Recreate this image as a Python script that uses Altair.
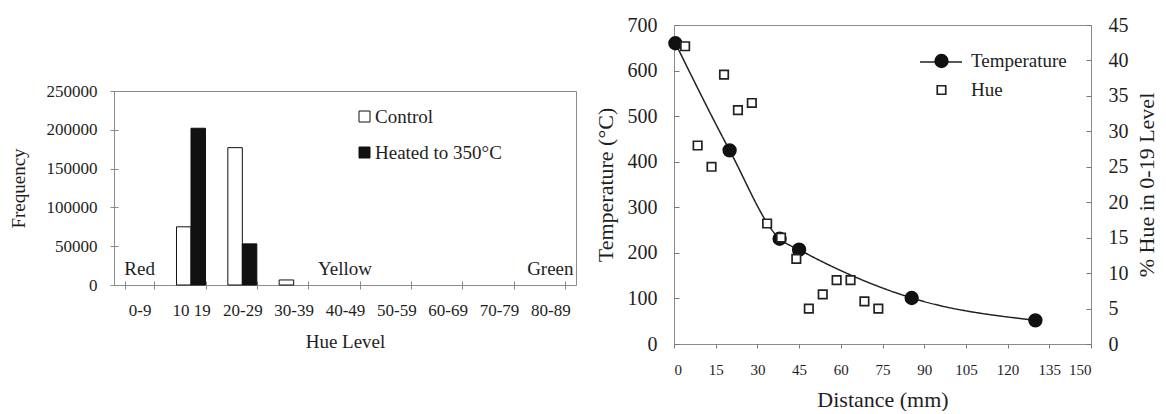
import altair as alt
import pandas as pd

FONT = "Liberation Serif"
INK = "#1e1e1e"

# ---------------- left panel data ----------------
hue_levels = ["0-9", "10 19", "20-29", "30-39", "40-49", "50-59", "60-69", "70-79", "80-89"]
control_freq = [0, 75000, 177000, 6500, 0, 0, 0, 0, 0]
heated_freq = [0, 202000, 53000, 0, 0, 0, 0, 0, 0]
series_names = ["Control", "Heated to 350°C"]
freq_ticks = [0, 50000, 100000, 150000, 200000, 250000]
region_names = ["Red", "Yellow", "Green"]
region_levels = ["0-9", "40-49", "80-89"]
region_y = [21000, 21000, 21000]

# ---------------- right panel data ----------------
temp_dist = [0.5, 20, 38, 45, 85.5, 130]
temp_vals = [660, 425, 231, 207, 101, 52]
hue_dist = [4, 8.5, 13.5, 18, 23, 28, 33.5, 38.5, 44, 48.5, 53.5, 58.5, 63.5, 68.5, 73.5]
hue_vals = [42, 28, 25, 38, 33, 34, 17, 15, 12, 5, 7, 9, 9, 6, 5]
dist_ticks = [0, 15, 30, 45, 60, 75, 90, 105, 120, 135, 150]
temp_ticks = [0, 100, 200, 300, 400, 500, 600, 700]
hue_ticks = [0, 5, 10, 15, 20, 25, 30, 35, 40, 45]
legend_names = ["Temperature", "Hue"]

bars = pd.DataFrame({
    "level": hue_levels * 2,
    "series": [series_names[0]] * len(hue_levels) + [series_names[1]] * len(hue_levels),
    "value": control_freq + heated_freq,
})
regions = pd.DataFrame({"level": region_levels, "name": region_names, "y": region_y})
temp_df = pd.DataFrame({"dist": temp_dist, "temp": temp_vals,
                        "entry": legend_names[0], "curve": legend_names[0]})
hue_df = pd.DataFrame({"dist": hue_dist, "hue": hue_vals, "entry": legend_names[1]})

# ---------------- left panel ----------------
LW, LH = 462, 194
xscale = alt.Scale(domain=hue_levels, paddingInner=0.435, paddingOuter=0.2175)
yscale_left = alt.Scale(domain=[0, 250000], nice=False)
x_axis_left = alt.Axis(title="Hue Level", labelAngle=0, tickBand="extent", offset=-4, tickSize=8,
                       domain=False, tickColor="#8a8a8a", labelPadding=13, titlePadding=14,
                       labelOverlap=False, labelFontSize=17, titleFontSize=19,
                       titleFontWeight="normal", labelColor=INK, titleColor=INK)
y_axis_left = alt.Axis(title="Frequency", values=freq_ticks, format="d", offset=-4, tickSize=8,
                       domain=False, grid=False, tickColor="#8a8a8a", labelPadding=13,
                       labelOverlap=False, titlePadding=18, labelFontSize=17,
                       titleFontSize=19, titleFontWeight="normal",
                       labelColor=INK, titleColor=INK)
bar_layer = alt.Chart(bars).transform_filter("datum.value > 0").mark_bar(
    stroke="#111", strokeWidth=1
).encode(
    x=alt.X("level:N", scale=xscale, axis=x_axis_left),
    xOffset=alt.XOffset("series:N", scale=alt.Scale(domain=series_names)),
    y=alt.Y("value:Q", scale=yscale_left, axis=y_axis_left),
    fill=alt.Fill("series:N",
                  scale=alt.Scale(domain=series_names, range=["#ffffff", "#111111"]),
                  legend=alt.Legend(title=None, orient="none", legendX=241, legendY=16,
                                    symbolType="square", symbolSize=121,
                                    symbolStrokeColor="#111", symbolStrokeWidth=1,
                                    labelFont=FONT, labelFontSize=19, labelColor=INK,
                                    labelOffset=1, rowPadding=16, padding=0)),
)
text_layer = alt.Chart(regions).mark_text(
    font=FONT, fontSize=19, color=INK, baseline="middle", align="center"
).encode(
    x=alt.X("level:N", scale=xscale, axis=x_axis_left),
    y=alt.Y("y:Q", scale=yscale_left, axis=y_axis_left),
    text="name:N",
)
left_plot = alt.layer(bar_layer, text_layer).properties(width=LW, height=LH)

spacer = alt.Chart(pd.DataFrame({"a": [0]})).mark_point(opacity=0).properties(
    width=LW, height=55, view=alt.ViewBackground(stroke="transparent")
)
left_col = alt.vconcat(spacer, left_plot, spacing=0).resolve_legend(fill="independent")

# ---------------- right panel ----------------
RW, RH = 417, 319
xdist = alt.X("dist:Q", scale=alt.Scale(domain=[0, 150], nice=False),
              axis=alt.Axis(title="Distance (mm)", values=dist_ticks, tickSize=4, domain=False,
                            grid=False, tickColor="#777", labelPadding=14, titlePadding=12,
                            labelFontSize=15, titleFontSize=22, titleFontWeight="normal",
                            labelColor=INK, titleColor=INK))
ytemp = alt.Y("temp:Q", scale=alt.Scale(domain=[0, 700], nice=False),
              axis=alt.Axis(title="Temperature (°C)", orient="left", values=temp_ticks,
                            offset=-5, tickSize=5, domain=False, grid=False, tickColor="#777",
                            labelPadding=17, titlePadding=10, labelFontSize=20, titleFontSize=22,
                            titleFontWeight="normal", labelColor=INK, titleColor=INK))
temp_line = alt.Chart(temp_df).mark_line(
    interpolate="monotone", color="#222", strokeWidth=1.5
).encode(
    x=xdist, y=ytemp,
    strokeDash=alt.StrokeDash("curve:N",
                              scale=alt.Scale(domain=[legend_names[0]], range=[[1, 0]]),
                              legend=alt.Legend(title=None, orient="none", legendX=245,
                                                legendY=15, symbolType="stroke",
                                                symbolSize=1764, symbolStrokeWidth=1.5,
                                                symbolStrokeColor="#222", labelExpr="''",
                                                labelFont=FONT, labelFontSize=19,
                                                labelOffset=6, padding=0)),
)
shape_scale = alt.Scale(domain=legend_names, range=["circle", "square"])
fill_scale = alt.Scale(domain=legend_names, range=["#111111", "#ffffff"])
stroke_scale = alt.Scale(domain=legend_names, range=["#111111", "#222222"])
size_scale = alt.Scale(domain=legend_names, range=[160, 72])
shape_legend = alt.Legend(title=None, orient="none", legendX=258, legendY=26.5,
                          labelFont=FONT, labelFontSize=19, labelColor=INK,
                          labelOffset=20, rowPadding=9, padding=0,
                          symbolStrokeColor="#111", symbolStrokeWidth=1.7)
temp_pts = alt.Chart(temp_df).mark_point(filled=True, strokeWidth=1.7, opacity=1).encode(
    x=xdist, y=ytemp,
    shape=alt.Shape("entry:N", scale=shape_scale, legend=shape_legend),
    fill=alt.Fill("entry:N", scale=fill_scale, legend=shape_legend),
    stroke=alt.Stroke("entry:N", scale=stroke_scale, legend=shape_legend),
    size=alt.Size("entry:N", scale=size_scale, legend=shape_legend),
)
temp_layer = alt.layer(temp_line, temp_pts)

hue_pts = alt.Chart(hue_df).mark_point(filled=True, strokeWidth=1.7, opacity=1).encode(
    x=xdist,
    y=alt.Y("hue:Q", scale=alt.Scale(domain=[0, 45], nice=False),
            axis=alt.Axis(title="% Hue in 0-19 Level", orient="right", values=hue_ticks,
                          offset=-5, tickSize=5, domain=False, grid=False, tickColor="#777",
                          labelPadding=17, titlePadding=8, labelFontSize=20, titleFontSize=22,
                          titleAngle=270, titleBaseline="top", titleFontWeight="normal",
                          labelColor=INK, titleColor=INK)),
    shape=alt.Shape("entry:N", scale=shape_scale, legend=shape_legend),
    fill=alt.Fill("entry:N", scale=fill_scale, legend=shape_legend),
    stroke=alt.Stroke("entry:N", scale=stroke_scale, legend=shape_legend),
    size=alt.Size("entry:N", scale=size_scale, legend=shape_legend),
)

right_chart = alt.layer(temp_layer, hue_pts).resolve_scale(
    y="independent"
).properties(width=RW, height=RH)

chart = alt.hconcat(left_col, right_chart, spacing=16).resolve_legend(
    fill="independent", shape="independent", size="independent", strokeDash="independent",
    stroke="independent"
).resolve_scale(fill="independent", shape="independent", size="independent",
                stroke="independent").properties(
    padding={"left": 0, "top": 6, "right": 0, "bottom": 0}
).configure(font=FONT).configure_view(stroke="#8c8c8c", strokeWidth=1)

chart.save("out.html", embed_options={"renderer": "svg", "actions": False})
